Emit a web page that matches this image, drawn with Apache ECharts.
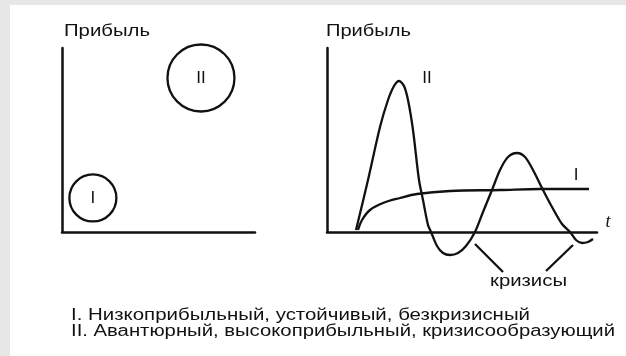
<!DOCTYPE html>
<html>
<head>
<meta charset="utf-8">
<title>Прибыль</title>
<script src="https://cdn.jsdelivr.net/npm/echarts@6/dist/echarts.min.js"></script>
<style>
    html, body { margin: 0; padding: 0; background: #fff; }
    #chart {
        width: 626px;
        height: 356px;
        background:
            linear-gradient(#e7e7e7, #e7e7e7) 0 0 / 100% 5px no-repeat,
            linear-gradient(#e7e7e7, #e7e7e7) 0 0 / 10px 100% no-repeat,
            #fff;
    }
</style>
</head>
<body>
<div id="chart"></div>
<script>
/*------------------ левая схема: положение типов ------------------*/
var circleNames = ['I', 'II'];
var circlePos = [[1.6, 1.85], [7.2, 8.37]];

/*------------------ правая схема: прибыль во времени ------------------*/
var typeI = [[31, 2], [35, 12], [43, 22], [56, 29], [73, 34], [90, 38], [123, 41],
    [173, 42], [213, 43], [262, 43]];
var typeII = [[29, 2], [41, 52], [53, 105], [61, 132], [67, 146], [72, 151], [77, 146],
    [81, 132], [86, 102], [92, 52], [96, 32], [101, 7], [104, 0], [110, -14], [116, -21],
    [123, -23], [131, -21], [139, -14], [148, 0], [156, 20], [165, 42], [173, 62], [181, 75],
    [190, 79], [198, 75], [206, 62], [216, 42], [225, 25], [235, 8], [243, 0], [249, -8],
    [255, -11], [261, -10], [266, -7]];
var crisisLine1 = [[148, -12], [176, -40]];
var crisisLine2 = [[246, -13], [219, -39]];

var axisTitle = 'Прибыль';
var timeTitle = 't';
var crisisText = 'кризисы';
var legendLines = ['I. Низкоприбыльный, устойчивый, безкризисный',
    'II. Авантюрный, высокоприбыльный, кризисообразующий'];

var ink = '#111';
var font = '16px "Liberation Sans", Arial, sans-serif';
var ctx = document.createElement('canvas').getContext('2d');

// текст на картинке растянут по горизонтали
function wideText(str, x, y, width, f) {
    f = f || font;
    ctx.font = f;
    var k = width / ctx.measureText(str).width;
    return {
        type: 'text', x: x, y: y, scaleX: k,
        style: { text: str, font: f, fill: ink, verticalAlign: 'middle' }
    };
}
function plainText(str, x, y, f) {
    return {
        type: 'text', x: x, y: y,
        style: { text: str, font: f || font, fill: ink, align: 'center', verticalAlign: 'middle' }
    };
}

function axisStyle(idx, max) {
    return {
        type: 'value', gridIndex: idx, min: 0, max: max,
        axisLine: { show: true, onZero: false, lineStyle: { color: ink, width: 2.5 } },
        axisTick: { show: false },
        axisLabel: { show: false },
        splitLine: { show: false }
    };
}
function curve(data, smooth) {
    return {
        type: 'line', xAxisIndex: 1, yAxisIndex: 1, data: data,
        smooth: smooth, showSymbol: false, clip: false, silent: true,
        lineStyle: { color: ink, width: 2.3 }
    };
}

var chart = echarts.init(document.getElementById('chart'));
chart.setOption({
    animation: false,
    grid: [
        { left: 62, top: 48, width: 193, height: 184 },
        { left: 327, top: 48, width: 270, height: 184 }
    ],
    xAxis: [axisStyle(0, 10), axisStyle(1, 270)],
    yAxis: [axisStyle(0, 10), axisStyle(1, 184)],
    series: [
        {
            type: 'scatter', xAxisIndex: 0, yAxisIndex: 0, silent: true,
            data: circlePos.map(function (p, i) { return { name: circleNames[i], value: p }; }),
            symbolSize: function (v, params) { return params.dataIndex ? 67 : 47; },
            itemStyle: { color: '#fff', borderColor: ink, borderWidth: 2.3, opacity: 1 },
            label: {
                show: true, position: 'inside', formatter: '{b}',
                color: ink, fontSize: 17, fontFamily: '"Liberation Sans", Arial, sans-serif'
            }
        },
        curve(typeI, 0.35),
        curve(typeII, 0.3),
        curve(crisisLine1, false),
        curve(crisisLine2, false)
    ],
    graphic: [
        wideText(axisTitle, 64, 32, 86),
        wideText(axisTitle, 326, 32, 85),
        plainText('II', 427, 78, '17px "Liberation Sans", Arial, sans-serif'),
        plainText('I', 576, 175, '17px "Liberation Sans", Arial, sans-serif'),
        plainText(timeTitle, 608, 222, 'italic 18px "Liberation Serif", serif'),
        wideText(crisisText, 490, 282, 77),
        wideText(legendLines[0], 71, 316, 459),
        wideText(legendLines[1], 71, 332, 544)
    ]
});
</script>
</body>
</html>
